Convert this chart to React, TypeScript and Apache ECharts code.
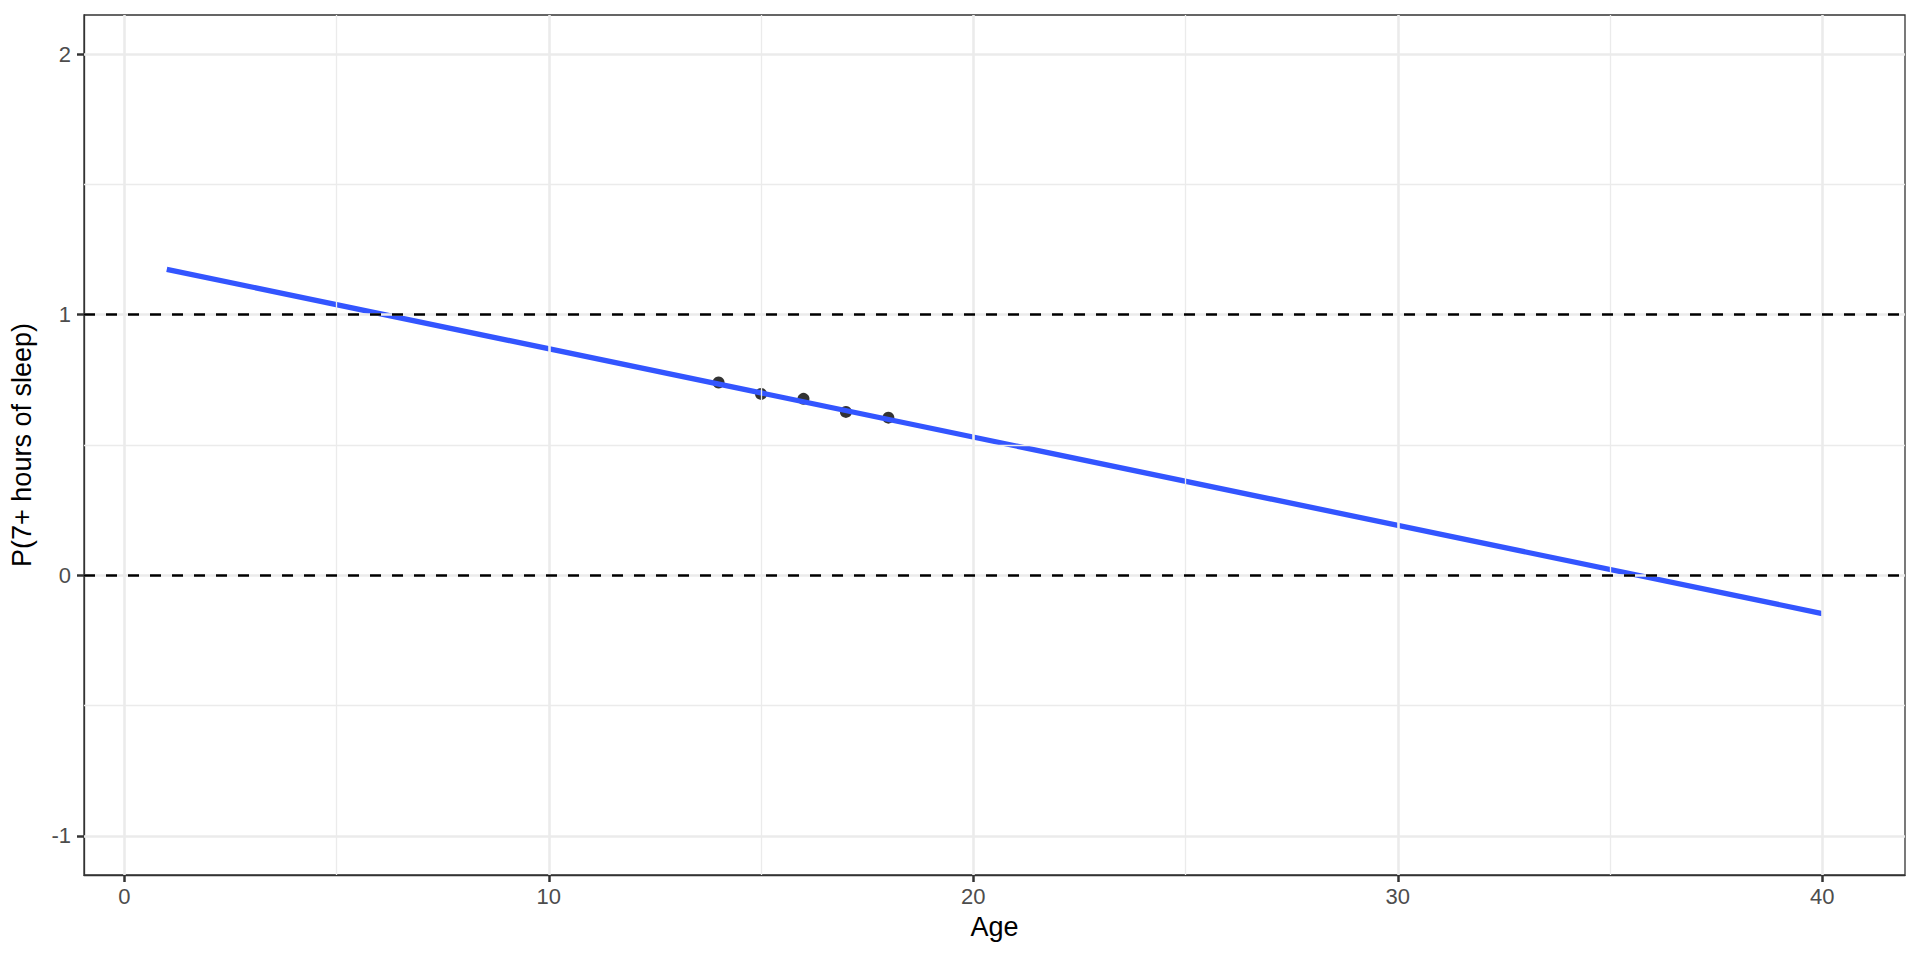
import React, { useEffect, useRef } from "react";
import * as echarts from "echarts";

const ages = [14, 15, 16, 17, 18];
const propSleep = [0.74, 0.696, 0.677, 0.627, 0.605];
const fitAges = [1, 40];
const fitValues = [1.174, -0.147];
const refLines = [0, 1];
const xMajor = [0, 10, 20, 30, 40];
const xMinor = [5, 15, 25, 35];
const yMajor = [-1, 0, 1, 2];
const yMinor = [-0.5, 0.5, 1.5];
const xRange = [-0.95, 41.95];
const yRange = [-1.15, 2.15];

const FONT = "Liberation Sans, Arial, sans-serif";
const GRID_COLOR = "#EBEBEB";

export default function App() {
  const ref = useRef<HTMLDivElement>(null);
  useEffect(() => {
    document.body.style.margin = "0";
    const chart = echarts.init(ref.current!, null, { renderer: "svg" });
    const gridLine = (axis: "xAxis" | "yAxis", vals: number[], width: number) =>
      vals.map((v) => ({ [axis]: v, lineStyle: { color: GRID_COLOR, width, type: "solid" } }));
    const axisLine = { show: true, onZero: false, lineStyle: { color: "#333333", width: 1.3 } };
    chart.setOption({
      animation: false,
      backgroundColor: "#ffffff",
      textStyle: { fontFamily: FONT },
      grid: {
        left: 83,
        top: 15,
        right: 15,
        bottom: 85,
        show: true,
        borderColor: "#333333",
        borderWidth: 1.3,
        backgroundColor: "#ffffff",
        z: 0,
      },
      xAxis: {
        type: "value",
        min: xRange[0],
        max: xRange[1],
        name: "Age",
        nameLocation: "middle",
        nameGap: 38,
        nameTextStyle: { fontSize: 27, color: "#000000", fontFamily: FONT },
        axisLine,
        splitLine: { show: false },
        axisTick: {
          show: true,
          customValues: xMajor,
          length: 7,
          lineStyle: { color: "#333333", width: 2.5 },
        },
        axisLabel: {
          customValues: xMajor,
          fontSize: 22,
          color: "#4D4D4D",
          margin: 10,
          fontFamily: FONT,
        },
      },
      yAxis: {
        type: "value",
        min: yRange[0],
        max: yRange[1],
        name: "P(7+ hours of sleep)",
        nameLocation: "middle",
        nameGap: 49,
        nameRotate: 90,
        nameTextStyle: { fontSize: 27, color: "#000000", fontFamily: FONT },
        axisLine,
        splitLine: { show: false },
        axisTick: {
          show: true,
          customValues: yMajor,
          length: 7,
          lineStyle: { color: "#333333", width: 2.5 },
        },
        axisLabel: {
          customValues: yMajor,
          fontSize: 22,
          color: "#4D4D4D",
          margin: 13,
          fontFamily: FONT,
        },
      },
      series: [
        {
          type: "line",
          data: [],
          silent: true,
          z: 1,
          markLine: {
            silent: true,
            symbol: "none",
            label: { show: false },
            animation: false,
            data: [
              ...gridLine("xAxis", xMinor, 1.3),
              ...gridLine("yAxis", yMinor, 1.3),
              ...gridLine("xAxis", xMajor, 2.6),
              ...gridLine("yAxis", yMajor, 2.6),
            ],
          },
        },
        {
          type: "line",
          data: [],
          silent: true,
          z: 2,
          markLine: {
            silent: true,
            symbol: "none",
            label: { show: false },
            animation: false,
            data: refLines.map((v) => ({
              yAxis: v,
              lineStyle: { color: "#000000", width: 2.6, type: [11, 11] },
            })),
          },
        },
        {
          type: "scatter",
          data: ages.map((a, i) => [a, propSleep[i]]),
          symbol: "circle",
          symbolSize: 12,
          itemStyle: { color: "#000000" },
          z: 3,
        },
        {
          type: "line",
          data: fitAges.map((a, i) => [a, fitValues[i]]),
          showSymbol: false,
          symbol: "none",
          lineStyle: { color: "#3355FF", width: 5.3 },
          z: 4,
        },
      ],
    });
    return () => chart.dispose();
  }, []);
  return (
    <div
      ref={ref}
      style={{ position: "fixed", left: 0, top: 0, width: 1920, height: 960 }}
    />
  );
}
